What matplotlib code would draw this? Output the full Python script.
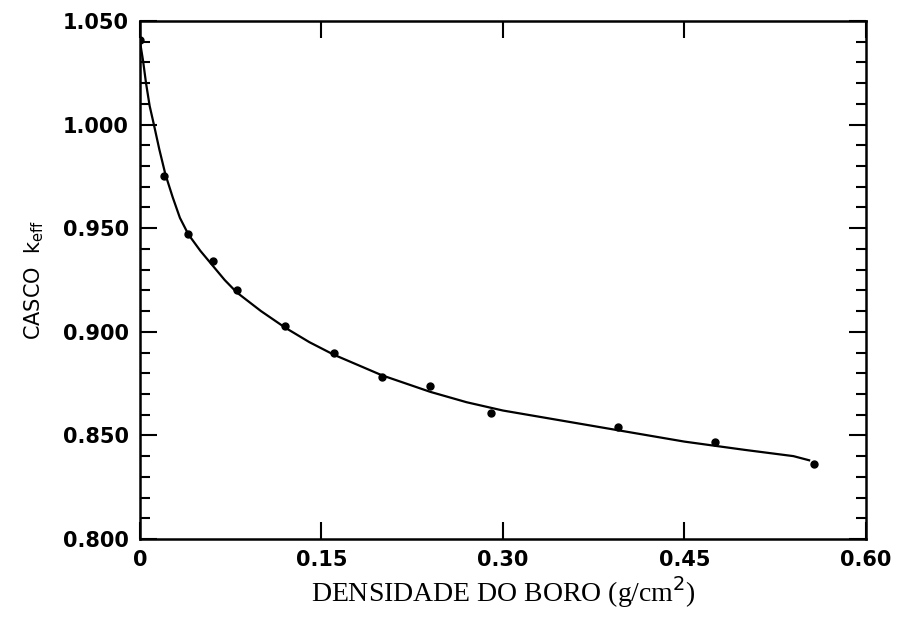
import matplotlib
matplotlib.use("Agg")
import matplotlib.pyplot as plt
from matplotlib.ticker import MultipleLocator, FixedLocator

# pontos calculados: densidade de boro x k_eff do casco
densidade = [0.0, 0.02, 0.04, 0.06, 0.08, 0.12, 0.16, 0.20, 0.24, 0.29, 0.395, 0.475, 0.557]
keff = [1.041, 0.975, 0.947, 0.934, 0.920, 0.903, 0.890, 0.878, 0.874, 0.861, 0.854, 0.847, 0.836]

# curva ajustada
curva_x = [0.0, 0.0025, 0.005, 0.008, 0.0115, 0.016, 0.021, 0.027, 0.033, 0.040, 0.050,
           0.060, 0.070, 0.080, 0.100, 0.120, 0.140, 0.160, 0.180, 0.200, 0.220, 0.240,
           0.270, 0.300, 0.350, 0.400, 0.450, 0.500, 0.540, 0.553]
curva_y = [1.040, 1.031, 1.020, 1.009, 1.000, 0.988, 0.976, 0.965, 0.955, 0.947, 0.939,
           0.932, 0.925, 0.919, 0.910, 0.902, 0.895, 0.889, 0.884, 0.879, 0.875, 0.871,
           0.866, 0.862, 0.857, 0.852, 0.847, 0.843, 0.840, 0.838]

xticks = [0.0, 0.15, 0.30, 0.45, 0.60]
xticklabels = ["0", "0.15", "0.30", "0.45", "0.60"]
yticks = [0.800, 0.850, 0.900, 0.950, 1.000, 1.050]
yticklabels = ["0.800", "0.850", "0.900", "0.950", "1.000", "1.050"]

plt.rcParams['mathtext.fontset'] = 'dejavusans'

fig = plt.figure(figsize=(8.99, 6.17), dpi=100)
ax = fig.add_axes([0.1557, 0.1264, 0.8076, 0.8396])

ax.plot(curva_x, curva_y, color='black', linewidth=1.6, solid_joinstyle='round')
ax.plot(densidade, keff, 'o', color='black', markersize=5)

ax.set_xlim(0, 0.60)
ax.set_ylim(0.800, 1.050)
ax.xaxis.set_major_locator(FixedLocator(xticks))
ax.set_xticklabels(xticklabels)
ax.yaxis.set_major_locator(FixedLocator(yticks))
ax.set_yticklabels(yticklabels)
ax.yaxis.set_minor_locator(MultipleLocator(0.01))

ax.tick_params(which='both', direction='in', top=True, right=True, width=1.5,
               labelsize=15, pad=8)
ax.tick_params(which='major', length=12)
ax.tick_params(which='minor', length=7)
for rotulo in ax.get_xticklabels() + ax.get_yticklabels():
    rotulo.set_fontweight('semibold')
for lado in ax.spines.values():
    lado.set_linewidth(1.8)

ax.set_xlabel(r"DENSIDADE DO BORO (g/cm$^2$)", family='Liberation Serif',
              fontsize=20, labelpad=3)
ax.set_ylabel(r"CASCO  k$_{\rm eff}$", fontsize=15, labelpad=12)

fig.savefig("out.png", dpi=100)
